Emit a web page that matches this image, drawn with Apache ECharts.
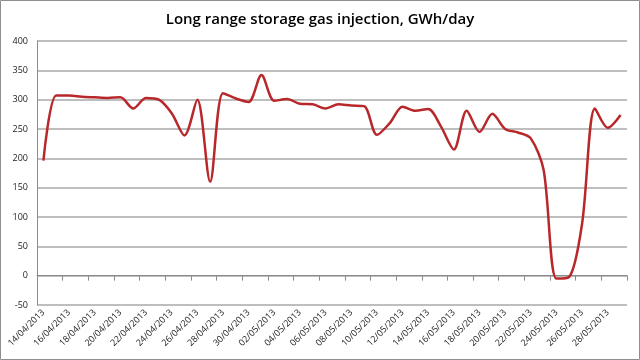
<!DOCTYPE html>
<html><head><meta charset="utf-8">
<script src="https://cdn.jsdelivr.net/npm/echarts@6/dist/echarts.min.js"></script>
<style>html,body{margin:0;padding:0;background:#fff}#c{width:640px;height:360px}</style>
</head><body><div id="c"></div>
<script>
const titleText = 'Long range storage gas injection, GWh/day';
const dates = ['14/04/2013','15/04/2013','16/04/2013','17/04/2013','18/04/2013','19/04/2013','20/04/2013','21/04/2013','22/04/2013','23/04/2013','24/04/2013','25/04/2013','26/04/2013','27/04/2013','28/04/2013','29/04/2013','30/04/2013','01/05/2013','02/05/2013','03/05/2013','04/05/2013','05/05/2013','06/05/2013','07/05/2013','08/05/2013','09/05/2013','10/05/2013','11/05/2013','12/05/2013','13/05/2013','14/05/2013','15/05/2013','16/05/2013','17/05/2013','18/05/2013','19/05/2013','20/05/2013','21/05/2013','22/05/2013','23/05/2013','24/05/2013','25/05/2013','26/05/2013','27/05/2013','28/05/2013','29/05/2013'];
const injection = [196,307,307,305,304,303,304,285,303,300,277,239,300,160,311,302,296,342,298,301,293,292,285,292,290,289,240,260,288,281,284,254,215,281,245,276,250,244,234,180,-5,-2,89,285,252,274];
const yTicks = {min:-50, max:400, step:50};

const chart = echarts.init(document.getElementById('c'), null, {renderer:'canvas'});
chart.setOption({
  animation:false,
  backgroundColor:'#fff',
  title:{text:titleText,left:'center',top:7,textStyle:{fontFamily:'Open Sans',fontSize:15,fontWeight:600,color:'#000'}},
  graphic:[{type:'rect',shape:{x:0.5,y:0.5,width:639,height:359},style:{fill:'none',stroke:'#8f8f8f',lineWidth:1}}],
  grid:{left:37,right:13,top:41,bottom:55},
  xAxis:[{
    type:'category',data:dates,boundaryGap:true,
    axisLine:{onZero:true,lineStyle:{color:'#8c8c8c',width:1}},
    axisTick:{show:true,interval:1,length:5,lineStyle:{color:'#8c8c8c'}},
    axisLabel:{show:false},splitLine:{show:false}
  },{
    type:'category',data:dates,boundaryGap:true,position:'bottom',
    axisLine:{show:false,onZero:false},axisTick:{show:false},
    axisLabel:{interval:1,rotate:45,fontFamily:'Open Sans',fontSize:9,color:'#222',margin:6},
    splitLine:{show:false}
  }],
  yAxis:{
    type:'value',min:yTicks.min,max:yTicks.max,interval:yTicks.step,
    axisLine:{show:true,lineStyle:{color:'#8c8c8c'}},axisTick:{show:false},
    axisLabel:{fontFamily:'Open Sans',fontSize:9,color:'#222',margin:9},
    splitLine:{lineStyle:{color:'#a8a8a8',width:1.5}}
  },
  series:[{
    type:'line',data:injection,smooth:0.3,symbol:'none',xAxisIndex:0,
    lineStyle:{color:'#b8282b',width:2.5}
  }]
});
</script></body></html>
